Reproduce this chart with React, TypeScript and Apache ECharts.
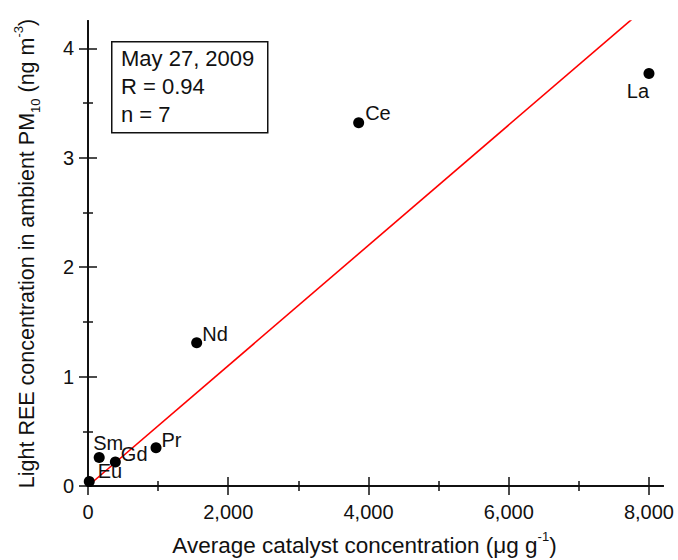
import React, { useEffect, useRef } from "react";
import * as echarts from "echarts";

const elements = ["Eu", "Sm", "Gd", "Pr", "Nd", "Ce", "La"];
const catalyst = [18, 160, 390, 970, 1550, 3860, 8000];
const ambient = [0.04, 0.26, 0.22, 0.35, 1.31, 3.32, 3.77];
const fitSlope = 0.00055;
const fitIntercept = 0;
const xMajor = [0, 2000, 4000, 6000, 8000];
const xMinor = [1000, 3000, 5000, 7000];
const yMajor = [0, 1, 2, 3, 4];
const yMinor = [0.5, 1.5, 2.5, 3.5];
const xMax = 8200;
const yMax = 4.25;
const infoLines = ["May 27, 2009", "R = 0.94", "n = 7"];

const FONT = "'Liberation Sans', Arial, sans-serif";

const labelPlacement: Record<string, { position: string; offset: number[] }> = {
  Eu: { position: "right", offset: [-2, -11] },
  Sm: { position: "top", offset: [9, 6] },
  Gd: { position: "right", offset: [-5, -8] },
  Pr: { position: "right", offset: [-5, -8] },
  Nd: { position: "right", offset: [-5, -9] },
  Ce: { position: "right", offset: [-4, -10] },
  La: { position: "bottom", offset: [-11, -3] },
};

const makeRich = (size: number) => ({
  n: { fontSize: size, lineHeight: 30, fontFamily: FONT, color: "#111" },
  sup: { fontSize: 13, lineHeight: 13, verticalAlign: "top", fontFamily: FONT, color: "#111" },
  sub: { fontSize: 13, lineHeight: 13, verticalAlign: "bottom", fontFamily: FONT, color: "#111" },
});

export default function App() {
  const ref = useRef<HTMLDivElement>(null);
  useEffect(() => {
    if (!ref.current) return;
    const chart = echarts.init(ref.current, null, { renderer: "svg" });
    const axisLine = { show: true, lineStyle: { color: "#111", width: 2 } };
    const baseX = (pos: string, ticks: number[], len: number, labels: boolean, line: boolean, extra: any = {}) => ({
      type: "value",
      position: pos,
      min: 0,
      max: xMax,
      splitLine: { show: false },
      axisLine: line ? axisLine : { show: false },
      axisTick: { show: true, customValues: ticks, length: len, lineStyle: { color: "#111", width: 1.5 } },
      axisLabel: labels
        ? {
            show: true,
            customValues: ticks,
            margin: 16,
            fontSize: 20,
            fontFamily: FONT,
            color: "#111",
            formatter: (v: number) => v.toLocaleString("en-US"),
          }
        : { show: false },
      ...extra,
    });
    const baseY = (pos: string, ticks: number[], len: number, labels: boolean, line: boolean, extra: any = {}) => ({
      type: "value",
      position: pos,
      min: 0,
      max: yMax,
      splitLine: { show: false },
      axisLine: line ? axisLine : { show: false },
      axisTick: { show: true, customValues: ticks, length: len, lineStyle: { color: "#111", width: 1.5 } },
      axisLabel: labels
        ? { show: true, customValues: ticks, margin: 14, fontSize: 20, fontFamily: FONT, color: "#111" }
        : { show: false },
      ...extra,
    });

    const scatterData = elements.map((el, i) => ({
      name: el,
      value: [catalyst[i], ambient[i]],
      label: {
        show: true,
        formatter: el,
        position: labelPlacement[el].position,
        offset: labelPlacement[el].offset,
        fontSize: 20,
        fontFamily: FONT,
        color: "#111",
        opacity: 1,
      },
    }));

    chart.setOption({
      animation: false,
      backgroundColor: "#fff",
      grid: { left: 88, right: 15, top: 21, bottom: 74, containLabel: false, outerBoundsMode: "none" },
      xAxis: [
        baseX("bottom", xMajor, 9, true, true, {
          name: "{n|Average catalyst concentration (μg g}{sup|-1}{n|)}",
          nameLocation: "middle",
          nameGap: 44,
          nameTextStyle: { rich: makeRich(22.5), padding: [0, 22, 0, 0] },
        }),
        baseX("bottom", xMinor, 5, false, false),
        baseX("top", xMajor, 9, false, true),
        baseX("top", xMinor, 5, false, false),
      ],
      yAxis: [
        baseY("left", yMajor, 9, true, true, {
          name: "{n|Light REE concentration in ambient PM}{sub|10}{n| (ng m}{sup|-3}{n|)}",
          nameLocation: "middle",
          nameGap: 46,
          nameTextStyle: { rich: makeRich(21.5) },
        }),
        baseY("left", yMinor, 5, false, false),
        baseY("right", yMajor, 9, false, true),
        baseY("right", yMinor, 5, false, false),
      ],
      series: [
        {
          type: "line",
          xAxisIndex: 0,
          yAxisIndex: 0,
          data: [
            [0, fitIntercept],
            [xMax, fitIntercept + fitSlope * xMax],
          ],
          showSymbol: false,
          symbol: "none",
          clip: true,
          lineStyle: { color: "#ff0000", width: 1.6 },
          z: 2,
        },
        {
          type: "scatter",
          xAxisIndex: 0,
          yAxisIndex: 0,
          data: scatterData,
          symbol: "circle",
          symbolSize: 11,
          itemStyle: { color: "#000", opacity: 1 },
          clip: false,
          z: 3,
        },
      ],
      graphic: [
        {
          type: "rect",
          left: 111,
          top: 41,
          shape: { width: 156, height: 91 },
          style: { fill: "#fff", stroke: "#111", lineWidth: 1.5 },
          z: 10,
        },
        {
          type: "text",
          left: 121,
          top: 44,
          style: {
            text: infoLines.join("\n"),
            fontSize: 22,
            lineHeight: 28,
            fontFamily: FONT,
            fill: "#111",
          },
          z: 11,
        },
      ],
    });
    return () => chart.dispose();
  }, []);
  return <div ref={ref} style={{ position: "fixed", left: 0, top: 0, width: 678, height: 560 }} />;
}
